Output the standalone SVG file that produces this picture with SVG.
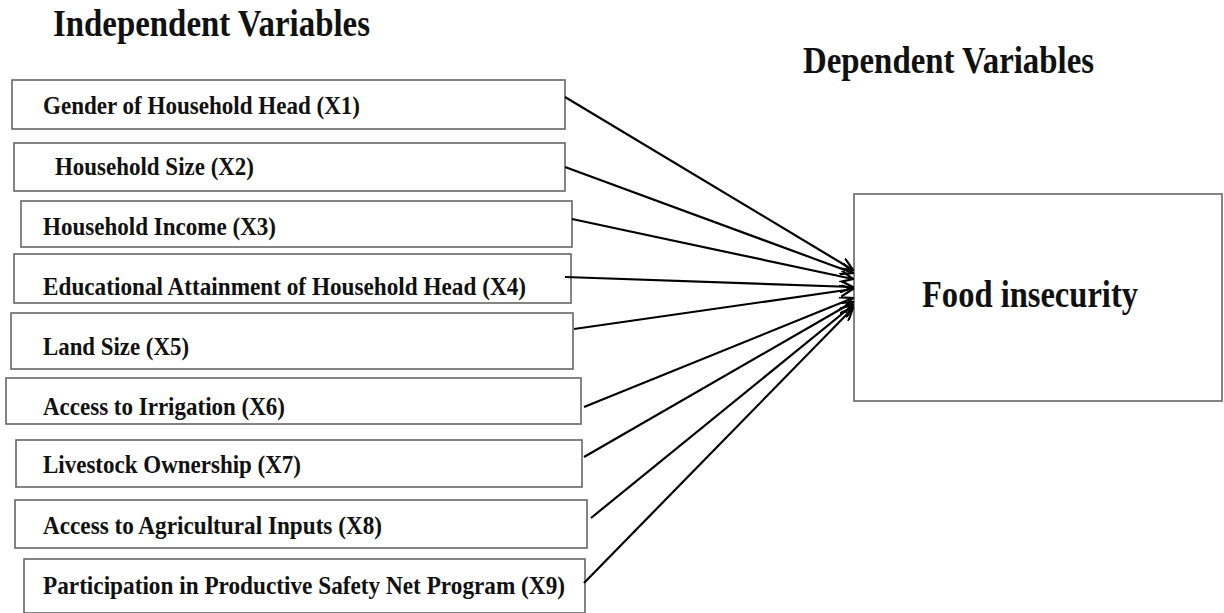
<svg xmlns="http://www.w3.org/2000/svg" width="1224" height="613" viewBox="0 0 1224 613">
<style>
.box{fill:#fff;stroke:#666;stroke-width:1.6}
.t{font-family:"Liberation Serif","Times New Roman",serif;font-weight:bold;font-size:25px;fill:#111}
.h{font-family:"Liberation Serif","Times New Roman",serif;font-weight:bold;font-size:38px;fill:#111}
.c{stroke:#000;stroke-width:2.2;fill:none;marker-end:url(#ah)}
</style>
<defs>
<marker id="ah" viewBox="0 0 14 12" refX="13" refY="6" markerWidth="14" markerHeight="12" markerUnits="userSpaceOnUse" orient="auto">
<path d="M0,0 L13,6 L0,12" fill="none" stroke="#000" stroke-width="2.2"/>
</marker>
</defs>
<rect width="1224" height="613" fill="#fff"/>
<text class="h" x="53" y="36" textLength="317" lengthAdjust="spacingAndGlyphs">Independent Variables</text>
<text class="h" x="803" y="73" textLength="291" lengthAdjust="spacingAndGlyphs">Dependent Variables</text>

<g id="x1"><rect class="box" x="12" y="80" width="553" height="49"/><text class="t" x="43" y="114" textLength="317" lengthAdjust="spacingAndGlyphs">Gender of Household Head (X1)</text></g>
<g id="x2"><rect class="box" x="14" y="143" width="551" height="48"/><text class="t" x="55" y="175" textLength="199" lengthAdjust="spacingAndGlyphs">Household Size (X2)</text></g>
<g id="x3"><rect class="box" x="21" y="201" width="551" height="46"/><text class="t" x="43" y="235" textLength="233" lengthAdjust="spacingAndGlyphs">Household Income (X3)</text></g>
<g id="x4"><rect class="box" x="14" y="254" width="557" height="49"/><text class="t" x="43" y="295" textLength="483" lengthAdjust="spacingAndGlyphs">Educational Attainment of Household Head (X4)</text></g>
<g id="x5"><rect class="box" x="11" y="313" width="562" height="56"/><text class="t" x="43" y="355" textLength="146" lengthAdjust="spacingAndGlyphs">Land Size (X5)</text></g>
<g id="x6"><rect class="box" x="6" y="378" width="575" height="46"/><text class="t" x="43" y="415" textLength="242" lengthAdjust="spacingAndGlyphs">Access to Irrigation (X6)</text></g>
<g id="x7"><rect class="box" x="16" y="440" width="566" height="47"/><text class="t" x="43" y="473" textLength="258" lengthAdjust="spacingAndGlyphs">Livestock Ownership (X7)</text></g>
<g id="x8"><rect class="box" x="15" y="500" width="572" height="48"/><text class="t" x="43" y="534" textLength="339" lengthAdjust="spacingAndGlyphs">Access to Agricultural Inputs (X8)</text></g>
<g id="x9"><rect class="box" x="24" y="559" width="561" height="54"/><text class="t" x="43" y="594" textLength="522" lengthAdjust="spacingAndGlyphs">Participation in Productive Safety Net Program (X9)</text></g>

<g id="y"><rect class="box" x="854" y="194" width="368" height="207"/><text class="h" x="922" y="307" font-size="40" textLength="216" lengthAdjust="spacingAndGlyphs">Food insecurity</text></g>

<g id="connectors">
<line class="c" x1="565" y1="97" x2="853" y2="270"/>
<line class="c" x1="565" y1="167" x2="853" y2="273"/>
<line class="c" x1="572" y1="219" x2="853" y2="279"/>
<line class="c" x1="565" y1="277" x2="853" y2="287"/>
<line class="c" x1="574" y1="329" x2="853" y2="289"/>
<line class="c" x1="584" y1="407" x2="853" y2="298"/>
<line class="c" x1="584" y1="457" x2="853" y2="302"/>
<line class="c" x1="591" y1="518" x2="853" y2="305"/>
<line class="c" x1="584" y1="583" x2="853" y2="308"/>
</g>
</svg>
